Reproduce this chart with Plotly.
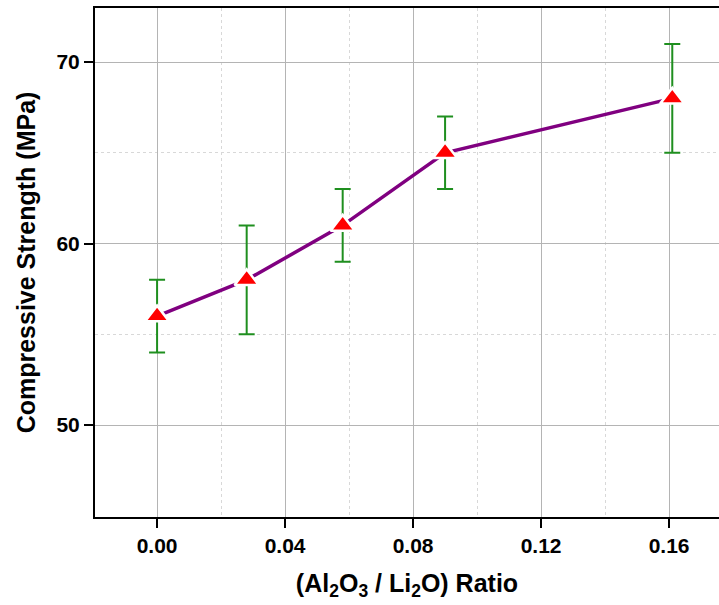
import plotly.graph_objects as go

ratio = [0.0, 0.028, 0.058, 0.09, 0.161]
strength = [56, 58, 61, 65, 68]
err_plus = [2, 3, 2, 2, 3]
err_minus = [2, 3, 2, 2, 3]

x_ticks = [0.00, 0.04, 0.08, 0.12, 0.16]
x_ticklabels = ["0.00", "0.04", "0.08", "0.12", "0.16"]
x_minor = [0.02, 0.06, 0.10, 0.14]
y_ticks = [50, 60, 70]
y_minor = [55, 65]

FONT = "Liberation Sans, Arial, sans-serif"

fig = go.Figure()
fig.add_trace(go.Scatter(
    x=ratio, y=strength,
    mode="lines+markers",
    line=dict(color="#800080", width=3.5),
    marker=dict(symbol="triangle-up", size=21, color="#ff0000",
                line=dict(color="white", width=2.5)),
    error_y=dict(type="data", symmetric=False, array=err_plus, arrayminus=err_minus,
                 color="#1f8f1f", thickness=2, width=8),
    showlegend=False,
))

fig.update_layout(
    width=719, height=605,
    margin=dict(l=95, r=0, t=8, b=88),
    plot_bgcolor="white", paper_bgcolor="white",
    font=dict(family=FONT, color="black"),
    xaxis=dict(
        range=[-0.0194, 0.1756],
        tickvals=x_ticks, ticktext=x_ticklabels,
        tickfont=dict(size=21, family=FONT, color="black", weight="bold"),
        ticks="outside", ticklen=9, tickwidth=2, tickcolor="black",
        showline=True, linecolor="black", linewidth=2, mirror=True,
        showgrid=True, gridcolor="#b4b4b4", gridwidth=1,
        minor=dict(tickvals=x_minor, showgrid=True, griddash="dot",
                   gridcolor="#d8d8d8", gridwidth=1, ticks=""),
        zeroline=False,
        title=dict(text="(Al<sub>2</sub>O<sub>3</sub> / Li<sub>2</sub>O) Ratio",
                   font=dict(size=25, family=FONT, color="black", weight="bold"),
                   standoff=18),
    ),
    yaxis=dict(
        range=[44.93, 72.98],
        tickvals=y_ticks,
        tickfont=dict(size=21, family=FONT, color="black", weight="bold"),
        ticks="outside", ticklen=9, tickwidth=2, tickcolor="black",
        showline=True, linecolor="black", linewidth=2, mirror=False,
        showgrid=True, gridcolor="#b4b4b4", gridwidth=1,
        minor=dict(tickvals=y_minor, showgrid=True, griddash="dot",
                   gridcolor="#d8d8d8", gridwidth=1, ticks=""),
        zeroline=False,
        title=dict(text="Compressive Strength (MPa)",
                   font=dict(size=25, family=FONT, color="black", weight="bold"),
                   standoff=14),
    ),
)

fig.write_html("out.html", config={"displayModeBar": False},
               post_script="document.body.style.margin='0';document.body.style.padding='0';")
